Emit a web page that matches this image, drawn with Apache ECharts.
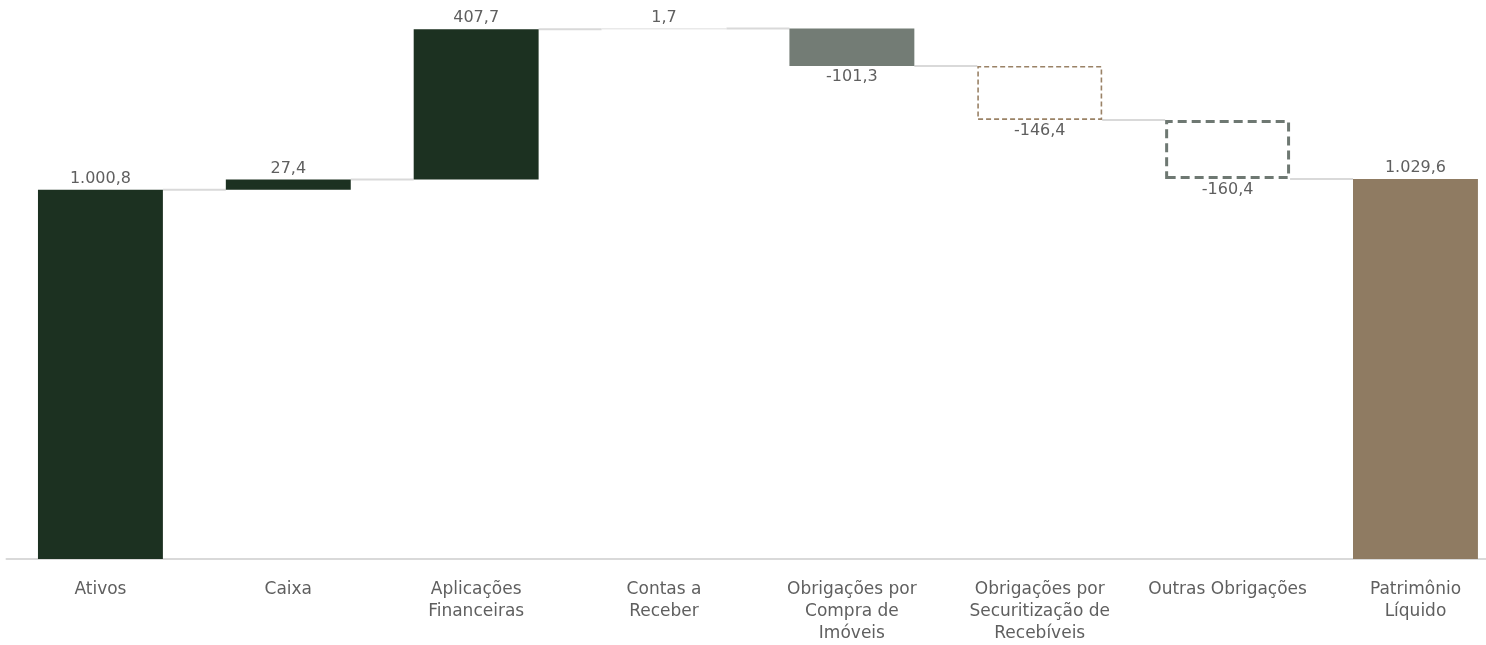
<!DOCTYPE html>
<html>
<head>
<meta charset="utf-8">
<script src="https://cdn.jsdelivr.net/npm/echarts@6/dist/echarts.min.js"></script>
<style>html,body{margin:0;padding:0;background:#fff;overflow:hidden;width:1486px;height:645px}#c{width:1510px;height:645px}</style>
</head>
<body>
<div id="c"></div>
<script>
var categories = ["Ativos", "Caixa", "Aplicações\nFinanceiras", "Contas a\nReceber", "Obrigações por\nCompra de\nImóveis", "Obrigações por\nSecuritização de\nRecebíveis", "Outras Obrigações", "Patrimônio\nLíquido"];
var values = [1000.8, 27.4, 407.7, 1.7, -101.3, -146.4, -160.4, 1029.6];
var isTotal = [true, false, false, false, false, false, false, true];

var barStyles = [
  {color: '#1c3121'},
  {color: '#1c3121'},
  {color: '#1c3121'},
  {color: '#d4d4d4'},
  {color: '#737c75'},
  {color: '#ffffff', borderColor: '#9a8266', borderWidth: 1.6, borderType: [5, 3]},
  {color: '#ffffff', borderColor: '#6e7872', borderWidth: 3, borderType: [9, 5]},
  {color: '#8f7b62'}
];

function fmt(v) {
  var neg = v < 0; v = Math.abs(v);
  var s = v.toFixed(1).split('.');
  var ip = s[0].replace(/\B(?=(\d{3})+(?!\d))/g, '.');
  return (neg ? '-' : '') + ip + ',' + s[1];
}

var base = [], height = [], levels = [];
var running = 0;
for (var i = 0; i < values.length; i++) {
  var v = values[i];
  if (isTotal[i]) { base.push(0); height.push(v); running = v; }
  else if (v >= 0) { base.push(running); height.push(v); running += v; }
  else { running += v; base.push(running); height.push(-v); }
  levels.push(running);
}

var chart = echarts.init(document.getElementById('c'));
var font = '"DejaVu Sans", sans-serif';
var barPct = 0.665;
chart.setOption({
  animation: false,
  grid: {left: 6.5, right: 0.6, top: 28.5, bottom: 84},
  xAxis: {
    type: 'category', data: categories,
    axisLine: {lineStyle: {color: '#d9d9d9', width: 2}},
    axisTick: {show: false},
    axisLabel: {interval: 0, color: '#5f5f5f', fontFamily: font, fontSize: 17, lineHeight: 22, margin: 20}
  },
  yAxis: {type: 'value', min: 0, max: 1437.6, show: false, splitLine: {show: false}},
  series: [
    {
      type: 'custom', z: 1,
      data: levels.slice(0, levels.length - 1).map(function (l, i) { return [i, l]; }),
      renderItem: function (params, api) {
        var i = api.value(0), l = api.value(1);
        var w = api.size([1, 0])[0] * barPct;
        var p1 = api.coord([i, l]), p2 = api.coord([i + 1, l]);
        return {type: 'line', shape: {x1: p1[0] + w / 2, y1: p1[1], x2: p2[0] - w / 2, y2: p2[1]},
          style: {stroke: '#d9d9d9', lineWidth: 2}};
      }
    },
    {
      type: 'bar', stack: 'w', barWidth: (barPct * 100) + '%', z: 2,
      itemStyle: {color: 'transparent'}, data: base, silent: true
    },
    {
      type: 'bar', stack: 'w', barWidth: (barPct * 100) + '%', z: 3,
      data: height.map(function (h, i) {
        return {
          value: h, itemStyle: barStyles[i],
          label: {show: true, position: values[i] < 0 ? 'bottom' : 'top', distance: 3,
            formatter: function () { return fmt(values[i]); },
            color: '#5f5f5f', fontFamily: font, fontSize: 16}
        };
      })
    }
  ]
});
</script>
</body>
</html>
